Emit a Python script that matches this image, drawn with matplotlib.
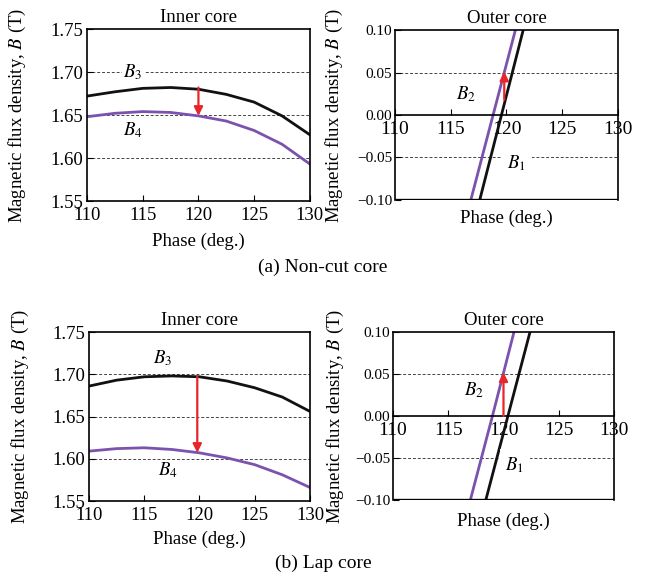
import numpy as np
import matplotlib
matplotlib.use("Agg")
from matplotlib import pyplot as plt

plt.rcParams['font.family'] = ['Liberation Serif', 'DejaVu Serif']
plt.rcParams['mathtext.fontset'] = 'stix'

black = '#111111'
purple = '#7b52ae'
red = '#e8262a'

# inner core, phase in degrees
phase_in = [110, 112.5, 115, 117.5, 120, 122.5, 125, 127.5, 130]
b3_noncut = [1.672, 1.677, 1.681, 1.682, 1.680, 1.674, 1.665, 1.649, 1.627]
b4_noncut = [1.648, 1.652, 1.654, 1.653, 1.649, 1.643, 1.632, 1.616, 1.593]
b3_lap = [1.686, 1.693, 1.697, 1.698, 1.697, 1.692, 1.684, 1.673, 1.656]
b4_lap = [1.609, 1.612, 1.613, 1.611, 1.607, 1.601, 1.593, 1.581, 1.566]

# outer core
b_out = [-0.10, 0.0, 0.10]
b1_noncut_ph = [117.6, 119.55, 121.5]
b2_noncut_ph = [116.8, 118.8, 120.8]
b1_lap_ph = [118.4, 120.4, 122.4]
b2_lap_ph = [117.0, 119.0, 120.95]

# arrows (x, y_start, y_end)
arrow_in_noncut = (120.0, 1.682, 1.649)
arrow_in_lap = (119.8, 1.697, 1.607)
arrow_out_noncut = (119.8, 0.018, 0.051)
arrow_out_lap = (120.0, 0.0, 0.052)

in_ticks = [1.55, 1.60, 1.65, 1.70, 1.75]
out_ticks = [-0.10, -0.05, 0.0, 0.05, 0.10]
out_ticklabels = ['\u22120.10', '\u22120.05', '0.00', '0.05', '0.10']
x_ticks = [110, 115, 120, 125, 130]

fig = plt.figure(figsize=(6.5, 5.77), dpi=100)

ylab = 'Magnetic flux density, $B$ (T)'


def arrow(ax, a):
    ax.annotate('', xy=(a[0], a[2]), xytext=(a[0], a[1]),
                arrowprops=dict(arrowstyle='-|>', color=red, lw=1.6,
                                mutation_scale=13, shrinkA=0, shrinkB=0))


def inner(rect, b3, b4, arr, l3, l4, lab_y, ylab_x):
    ax = fig.add_axes(rect)
    for g in [1.60, 1.65, 1.70]:
        ax.axhline(g, color='#444444', lw=0.7, ls=(0, (3, 2)), zorder=0)
    ax.plot(phase_in, b3, color=black, lw=2)
    ax.plot(phase_in, b4, color=purple, lw=2)
    arrow(ax, arr)
    ax.text(l3[0], l3[1], '$B_3$', fontsize=13.5, ha='center', va='center',
            bbox=dict(fc='white', ec='none', pad=1))
    ax.text(l4[0], l4[1], '$B_4$', fontsize=13.5, ha='center', va='center')
    ax.set_xlim(110, 130)
    ax.set_ylim(1.55, 1.75)
    ax.set_xticks(x_ticks)
    ax.set_yticks(in_ticks)
    ax.set_yticklabels(['%.2f' % t for t in in_ticks])
    ax.tick_params(direction='in', length=4, labelsize=13.5)
    ax.tick_params(axis='x', pad=4)
    ax.tick_params(axis='y', pad=3)
    for s in ax.spines.values():
        s.set_linewidth(1.2)
    ax.set_title('Inner core', fontsize=13.5, pad=5)
    ax.set_xlabel('Phase (deg.)', fontsize=13.5)
    ax.xaxis.set_label_coords(0.5, lab_y)
    ax.set_ylabel(ylab, fontsize=13.5)
    ax.yaxis.set_label_coords(ylab_x, 0.5)
    return ax


def outer(rect, b1, b2, arr, l1, l2, lab_y, ylab_x):
    ax = fig.add_axes(rect)
    for g in [-0.05, 0.05]:
        ax.axhline(g, color='#444444', lw=0.7, ls=(0, (3, 2)), zorder=0)
    ax.plot(b1, b_out, color=black, lw=2)
    ax.plot(b2, b_out, color=purple, lw=2)
    arrow(ax, arr)
    ax.text(l1[0], l1[1], '$B_1$', fontsize=13.5, ha='center', va='center',
            bbox=dict(fc='white', ec='none', pad=4))
    ax.text(l2[0], l2[1], '$B_2$', fontsize=13.5, ha='center', va='center')
    ax.set_xlim(110, 130)
    ax.set_ylim(-0.10, 0.10)
    ax.spines['bottom'].set_position(('data', 0))
    ax.axhline(-0.10, color='black', lw=2.4, clip_on=True)
    ax.set_xticks(x_ticks)
    ax.set_yticks(out_ticks)
    ax.set_yticklabels(out_ticklabels)
    ax.tick_params(direction='in', length=4, pad=2)
    ax.tick_params(axis='x', labelsize=14, pad=4)
    ax.tick_params(axis='y', labelsize=11)
    for s in ax.spines.values():
        s.set_linewidth(1.2)
    ax.set_title('Outer core', fontsize=13.5, pad=5)
    ax.set_xlabel('Phase (deg.)', fontsize=13.5)
    ax.xaxis.set_label_coords(0.5, lab_y)
    ax.set_ylabel(ylab, fontsize=13.5)
    ax.yaxis.set_label_coords(ylab_x, 0.5)
    return ax


inner([0.1338, 0.6516, 0.343, 0.2981], b3_noncut, b4_noncut, arrow_in_noncut,
      (114.1, 1.700), (114.1, 1.632), -0.185, -0.265)
outer([0.6077, 0.6534, 0.343, 0.2946], b1_noncut_ph, b2_noncut_ph, arrow_out_noncut,
      (120.9, -0.057), (116.4, 0.024), -0.06, -0.224)
inner([0.1369, 0.1317, 0.340, 0.2929], b3_lap, b4_lap, arrow_in_lap,
      (116.7, 1.719), (117.1, 1.587), -0.178, -0.262)
outer([0.6046, 0.1334, 0.340, 0.2912], b1_lap_ph, b2_lap_ph, arrow_out_lap,
      (121.0, -0.058), (117.3, 0.031), -0.077, -0.213)

fig.text(0.497, 1 - 267 / 577, '(a) Non-cut core', fontsize=14, ha='center', va='center')
fig.text(0.497, 1 - 563 / 577, '(b) Lap core', fontsize=14, ha='center', va='center')

fig.savefig('out.png', dpi=100)
